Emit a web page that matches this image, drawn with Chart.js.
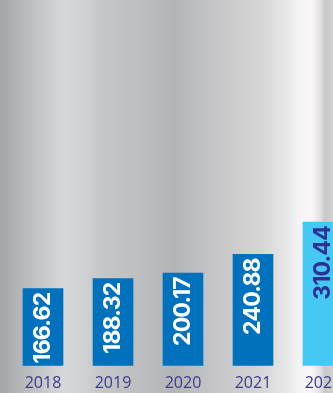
<!DOCTYPE html>
<html>
<head>
<meta charset="utf-8">
<script src="https://cdn.jsdelivr.net/npm/chart.js@4"></script>
<style>
  html, body { margin: 0; padding: 0; overflow: hidden; width: 333px; height: 393px; }
  #wrap { width: 358px; height: 393px; }
</style>
</head>
<body>
<div id="wrap"><canvas id="chart"></canvas></div>
<script>
const years = ["2018", "2019", "2020", "2021", "2022"];
const values = [166.62, 188.32, 200.17, 240.88, 310.44];
const barColors = ["#0071bc", "#0071bc", "#0071bc", "#0071bc", "#45c8f4"];
const labelColors = ["#ffffff", "#ffffff", "#ffffff", "#ffffff", "#2e3192"];

// silver backdrop, vertical stripes
const silverBackground = {
    id: "silverBackground",
    beforeDraw(chart) {
        const ctx = chart.ctx;
        const w = 333;
        const g = ctx.createLinearGradient(0, 0, w, 0);
        const stops = [
            [0, "#a4a5a7"], [20, "#b5b6b8"], [45, "#c8c9cb"], [64, "#d6d9dc"],
            [82, "#d0d3d5"], [100, "#c5c6c8"], [140, "#bdbebf"], [175, "#b3b4b6"],
            [200, "#bfc0c2"], [230, "#cbcbcc"], [260, "#d5d5d5"], [285, "#e6e6e6"],
            [298, "#f5f3f4"], [312, "#f8f6f7"], [320, "#e3e1e2"], [325, "#c9c8c9"],
            [333, "#d1d0d1"]
        ];
        stops.forEach(s => g.addColorStop(s[0] / w, s[1]));
        ctx.save();
        ctx.fillStyle = g;
        ctx.fillRect(0, 0, chart.width, chart.height);
        ctx.restore();
    }
};

// value printed upright inside each bar, reading bottom to top
const barValues = {
    id: "barValues",
    afterDatasetsDraw(chart) {
        const ctx = chart.ctx;
        const meta = chart.getDatasetMeta(0);
        ctx.save();
        ctx.font = "bold 23px Inter";
        ctx.letterSpacing = "-0.8px";
        ctx.textAlign = "right";
        ctx.textBaseline = "middle";
        meta.data.forEach((bar, i) => {
            ctx.save();
            ctx.translate(bar.x, bar.y + 4);
            ctx.rotate(-Math.PI / 2);
            ctx.fillStyle = labelColors[i];
            ctx.fillText(values[i].toFixed(2), 0, 0);
            ctx.restore();
        });
        ctx.restore();
    }
};

new Chart(document.getElementById("chart"), {
    type: "bar",
    plugins: [silverBackground, barValues],
    data: {
        labels: years,
        datasets: [{
            data: values,
            backgroundColor: barColors,
            barThickness: 40,
            borderWidth: 0
        }]
    },
    options: {
        responsive: true,
        maintainAspectRatio: false,
        animation: false,
        layout: { padding: { left: 8, right: 0, top: 0, bottom: -8 } },
        plugins: {
            legend: { display: false },
            tooltip: { enabled: false }
        },
        scales: {
            x: {
                grid: { display: false, drawTicks: false },
                border: { display: false },
                ticks: {
                    color: "#3b3b8e",
                    font: { family: "Open Sans", size: 16 },
                    padding: 8,
                    maxRotation: 0
                }
            },
            y: {
                display: false,
                min: 0,
                max: 790
            }
        }
    }
});
</script>
</body>
</html>
